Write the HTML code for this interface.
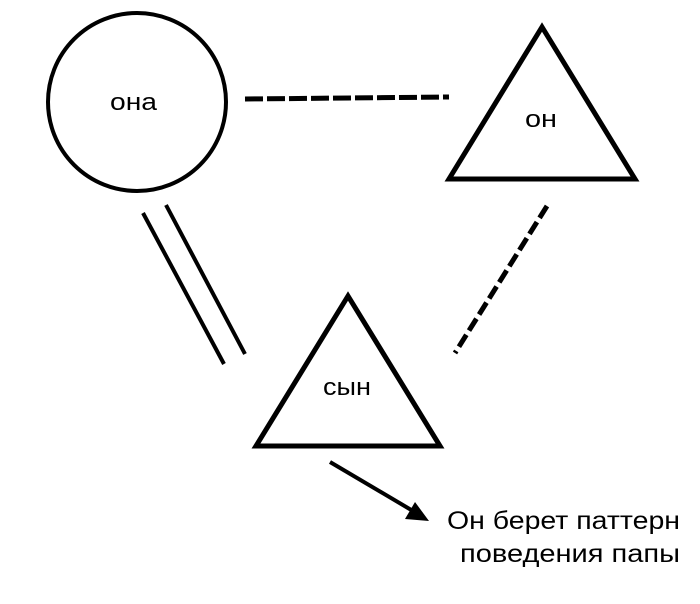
<!DOCTYPE html>
<html><head><meta charset="utf-8"><style>
html,body{margin:0;padding:0;background:#fff;}
svg{display:block;}
text{font-family:"Liberation Sans",sans-serif;fill:#000;}
</style></head><body>
<svg width="700" height="604" viewBox="0 0 700 604" xmlns="http://www.w3.org/2000/svg">
<circle cx="137" cy="102" r="89" fill="none" stroke="#000" stroke-width="4"/>
<text x="110" y="110" font-size="24" textLength="47" lengthAdjust="spacingAndGlyphs">она</text>
<polygon points="542,27 449,179 635,179" fill="none" stroke="#000" stroke-width="5"/>
<text x="525" y="127" font-size="24" textLength="32" lengthAdjust="spacingAndGlyphs">он</text>
<polygon points="348,296 256,446 440,446" fill="none" stroke="#000" stroke-width="5"/>
<text x="323" y="395" font-size="24" textLength="48" lengthAdjust="spacingAndGlyphs">сын</text>
<line x1="245" y1="99" x2="449" y2="97" stroke="#000" stroke-width="5" stroke-dasharray="18,4"/>
<line x1="547" y1="206" x2="455" y2="353" stroke="#000" stroke-width="5" stroke-dasharray="14,5"/>
<line x1="143" y1="213" x2="224" y2="364" stroke="#000" stroke-width="4"/>
<line x1="166" y1="205" x2="245" y2="354" stroke="#000" stroke-width="4"/>
<line x1="330" y1="462" x2="413" y2="511" stroke="#000" stroke-width="4"/>
<polygon points="429,521 405,519 415,502" fill="#000"/>
<text x="447" y="529" font-size="25" textLength="233" lengthAdjust="spacingAndGlyphs">Он берет паттерн</text>
<text x="460" y="562" font-size="25" textLength="220" lengthAdjust="spacingAndGlyphs">поведения папы</text>
</svg>
</body></html>
